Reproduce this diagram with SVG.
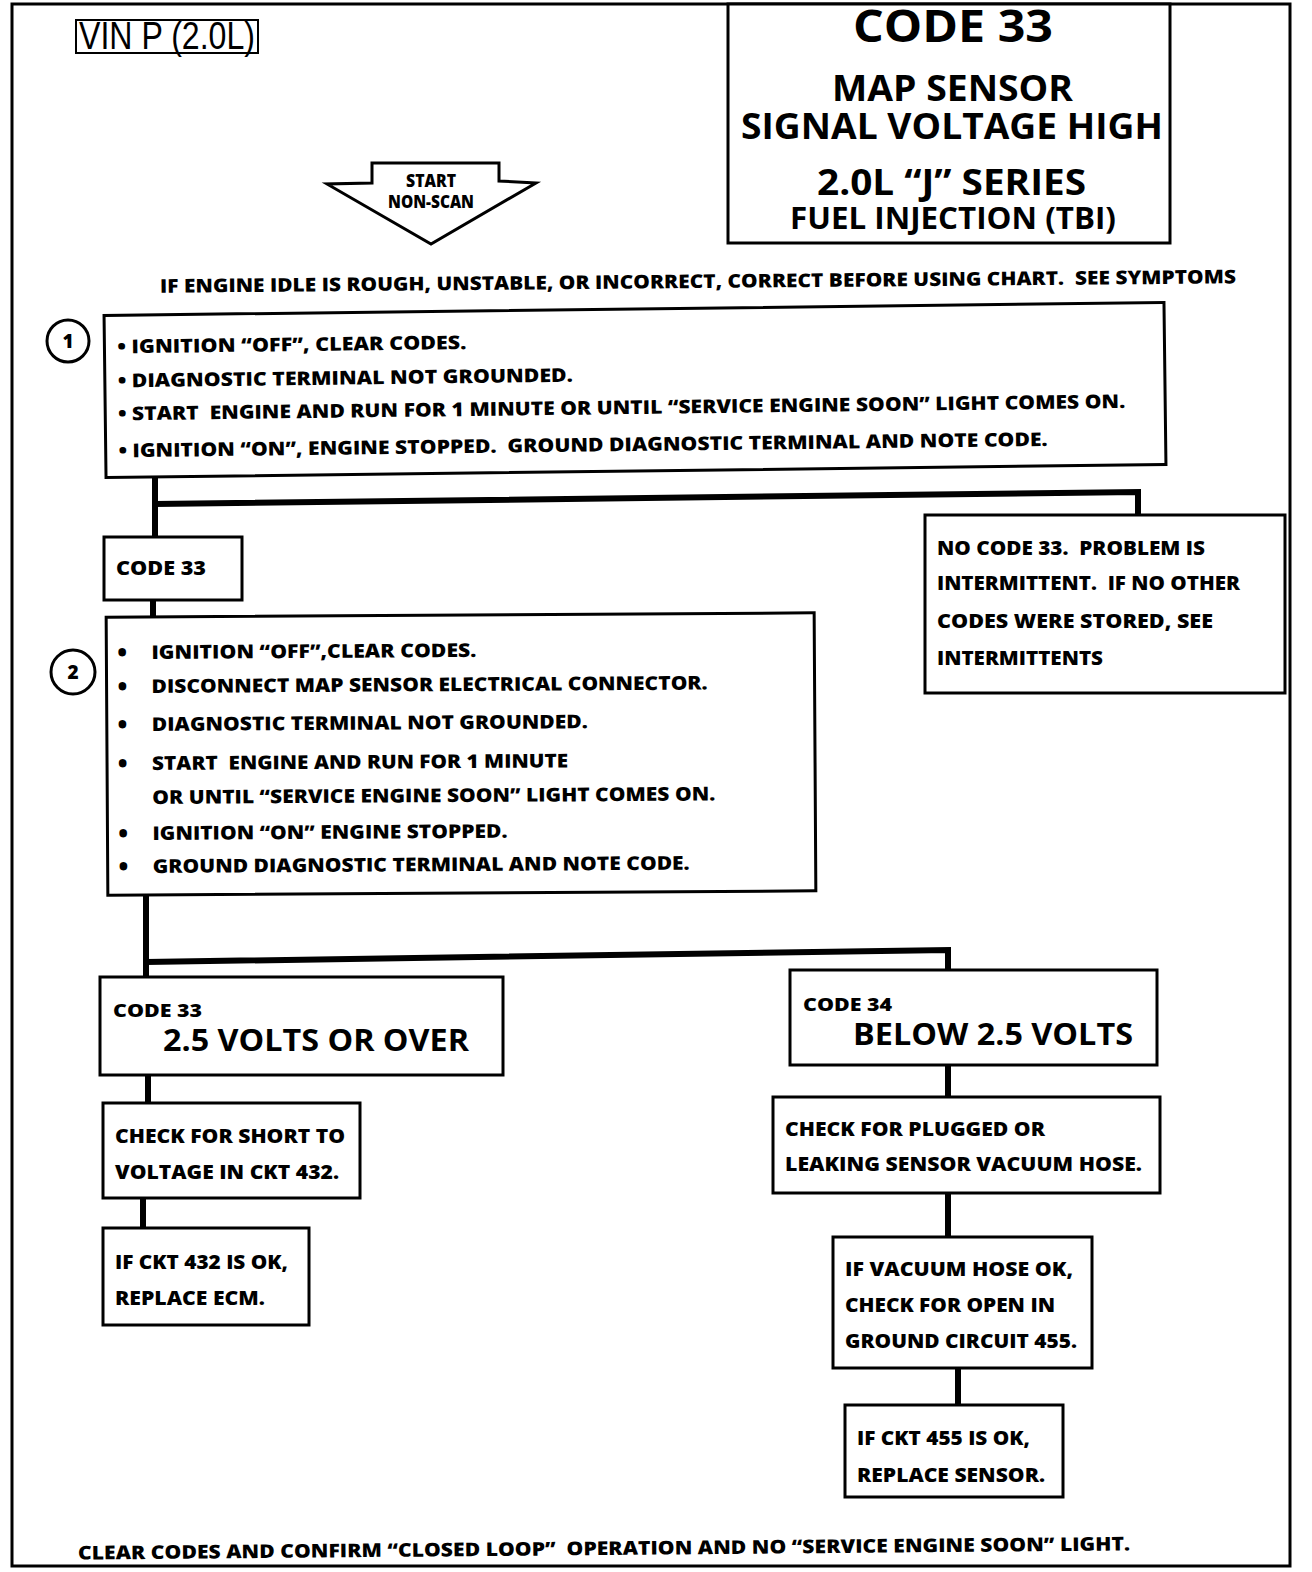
<svg xmlns="http://www.w3.org/2000/svg" width="1312" height="1572" viewBox="0 0 1312 1572">
<style>
.box{fill:#fff;stroke:#000;stroke-width:3}
.con{fill:none;stroke:#000;stroke-width:6;stroke-linejoin:miter}
.t{font-family:"Open Sans","Liberation Sans",sans-serif;font-weight:800;font-size:19px;fill:#000;white-space:pre}
.b{font-family:"Open Sans","Liberation Sans",sans-serif;font-weight:800;font-size:24px;fill:#000}
.ti{font-family:"Open Sans","Liberation Sans",sans-serif;font-weight:700;fill:#000}
.big{font-family:"Open Sans","Liberation Sans",sans-serif;font-weight:700;font-size:31px;fill:#000}
.sm{font-family:"Open Sans","Liberation Sans",sans-serif;font-weight:800;font-size:18px;fill:#000}
</style>
<rect x="0" y="0" width="1312" height="1572" fill="#fff"/>
<rect x="12" y="4" width="1278" height="1562" fill="none" stroke="#000" stroke-width="3"/>

<g id="vin">
<rect x="76" y="20" width="182" height="33" fill="none" stroke="#000" stroke-width="2"/>
<text x="79" y="49" font-family="Liberation Sans, Arial, sans-serif" font-size="38" textLength="176" lengthAdjust="spacingAndGlyphs">VIN P (2.0L)</text>
</g>

<g id="title">
<rect class="box" x="728" y="4" width="442" height="239"/>
<text class="ti" x="853" y="42" font-size="44" textLength="200" lengthAdjust="spacingAndGlyphs">CODE 33</text>
<text class="ti" x="832" y="101" font-size="35" textLength="241" lengthAdjust="spacingAndGlyphs">MAP SENSOR</text>
<text class="ti" x="741" y="139" font-size="35" textLength="422" lengthAdjust="spacingAndGlyphs">SIGNAL VOLTAGE HIGH</text>
<text class="ti" x="817" y="195" font-size="35" textLength="269" lengthAdjust="spacingAndGlyphs">2.0L “J” SERIES</text>
<text class="ti" x="790" y="229" font-size="31" textLength="326" lengthAdjust="spacingAndGlyphs">FUEL INJECTION (TBI)</text>
</g>

<g id="start">
<polygon class="box" points="372,163 499,163 499,181 536,183 431,244 327,184 372,183"/>
<text class="sm" x="431" y="187" font-size="14" text-anchor="middle" textLength="50" lengthAdjust="spacingAndGlyphs">START</text>
<text class="sm" x="431" y="208" font-size="14" text-anchor="middle" textLength="86" lengthAdjust="spacingAndGlyphs">NON-SCAN</text>
</g>

<text id="note" class="t" x="160" y="288" textLength="1076" lengthAdjust="spacingAndGlyphs" transform="rotate(-0.5 698 286)">IF ENGINE IDLE IS ROUGH, UNSTABLE, OR INCORRECT, CORRECT BEFORE USING CHART.  SEE SYMPTOMS</text>

<g id="connectors">
<path class="con" d="M155 477 V537"/>
<polyline class="con" points="155,504 1138,492 1138,515"/>
<path class="con" d="M153 600 V618"/>
<path class="con" d="M146 893 V977"/>
<polyline class="con" points="146,962 948,950 948,970"/>
<path class="con" d="M148 1075 V1103"/>
<path class="con" d="M143 1198 V1228"/>
<path class="con" d="M948 1065 V1097"/>
<path class="con" d="M948 1193 V1237"/>
<path class="con" d="M958 1368 V1405"/>
</g>

<g id="step1">
<circle cx="68" cy="341" r="21" fill="#fff" stroke="#000" stroke-width="3"/>
<text class="t" x="68" y="348" font-size="20" text-anchor="middle">1</text>
</g>

<g id="box1" transform="rotate(-0.7 635 390)">
<rect class="box" x="105" y="309" width="1060" height="162"/>
<text class="t" x="118" y="347" textLength="349" lengthAdjust="spacingAndGlyphs">• IGNITION “OFF”, CLEAR CODES.</text>
<text class="t" x="118" y="381" textLength="455" lengthAdjust="spacingAndGlyphs">• DIAGNOSTIC TERMINAL NOT GROUNDED.</text>
<text class="t" x="118" y="414" textLength="1007" lengthAdjust="spacingAndGlyphs">• START  ENGINE AND RUN FOR 1 MINUTE OR UNTIL “SERVICE ENGINE SOON” LIGHT COMES ON.</text>
<text class="t" x="118" y="451" textLength="929" lengthAdjust="spacingAndGlyphs">• IGNITION “ON”, ENGINE STOPPED.  GROUND DIAGNOSTIC TERMINAL AND NOTE CODE.</text>
</g>

<g id="code33a">
<rect class="box" x="104" y="537" width="138" height="63"/>
<text class="t" x="116" y="575" textLength="90" lengthAdjust="spacingAndGlyphs">CODE 33</text>
</g>

<g id="nocode">
<rect class="box" x="925" y="515" width="360" height="178"/>
<text class="t" x="937" y="555" textLength="268" lengthAdjust="spacingAndGlyphs">NO CODE 33.  PROBLEM IS</text>
<text class="t" x="937" y="590" textLength="303" lengthAdjust="spacingAndGlyphs">INTERMITTENT.  IF NO OTHER</text>
<text class="t" x="937" y="628" textLength="276" lengthAdjust="spacingAndGlyphs">CODES WERE STORED, SEE</text>
<text class="t" x="937" y="665" textLength="166" lengthAdjust="spacingAndGlyphs">INTERMITTENTS</text>
</g>

<g id="step2">
<circle cx="73" cy="672" r="22" fill="#fff" stroke="#000" stroke-width="3"/>
<text class="t" x="73" y="679" font-size="20" text-anchor="middle">2</text>
</g>

<g id="box2" transform="rotate(-0.35 461 754)">
<rect class="box" x="107" y="615" width="708" height="278"/>
<text class="b" x="118" y="659">•</text>
<text class="t" x="152" y="657" textLength="325" lengthAdjust="spacingAndGlyphs">IGNITION “OFF”,CLEAR CODES.</text>
<text class="b" x="118" y="693">•</text>
<text class="t" x="152" y="691" textLength="556" lengthAdjust="spacingAndGlyphs">DISCONNECT MAP SENSOR ELECTRICAL CONNECTOR.</text>
<text class="b" x="118" y="731">•</text>
<text class="t" x="152" y="729" textLength="436" lengthAdjust="spacingAndGlyphs">DIAGNOSTIC TERMINAL NOT GROUNDED.</text>
<text class="b" x="118" y="770">•</text>
<text class="t" x="152" y="768" textLength="416" lengthAdjust="spacingAndGlyphs">START  ENGINE AND RUN FOR 1 MINUTE</text>
<text class="t" x="152" y="802" textLength="563" lengthAdjust="spacingAndGlyphs">OR UNTIL “SERVICE ENGINE SOON” LIGHT COMES ON.</text>
<text class="b" x="118" y="840">•</text>
<text class="t" x="152" y="838" textLength="355" lengthAdjust="spacingAndGlyphs">IGNITION “ON” ENGINE STOPPED.</text>
<text class="b" x="118" y="873">•</text>
<text class="t" x="152" y="871" textLength="537" lengthAdjust="spacingAndGlyphs">GROUND DIAGNOSTIC TERMINAL AND NOTE CODE.</text>
</g>

<g id="code33b">
<rect class="box" x="100" y="977" width="403" height="98"/>
<text class="sm" x="113" y="1017" textLength="89" lengthAdjust="spacingAndGlyphs">CODE 33</text>
<text class="big" x="163" y="1051" textLength="306" lengthAdjust="spacingAndGlyphs">2.5 VOLTS OR OVER</text>
</g>

<g id="code34">
<rect class="box" x="790" y="970" width="367" height="95"/>
<text class="sm" x="803" y="1011" textLength="89" lengthAdjust="spacingAndGlyphs">CODE 34</text>
<text class="big" x="853" y="1045" textLength="280" lengthAdjust="spacingAndGlyphs">BELOW 2.5 VOLTS</text>
</g>

<g id="short">
<rect class="box" x="103" y="1103" width="257" height="95"/>
<text class="t" x="115" y="1143" textLength="230" lengthAdjust="spacingAndGlyphs">CHECK FOR SHORT TO</text>
<text class="t" x="115" y="1179" textLength="224" lengthAdjust="spacingAndGlyphs">VOLTAGE IN CKT 432.</text>
</g>

<g id="ecm">
<rect class="box" x="103" y="1228" width="206" height="97"/>
<text class="t" x="115" y="1269" textLength="173" lengthAdjust="spacingAndGlyphs">IF CKT 432 IS OK,</text>
<text class="t" x="115" y="1305" textLength="150" lengthAdjust="spacingAndGlyphs">REPLACE ECM.</text>
</g>

<g id="plugged">
<rect class="box" x="773" y="1097" width="387" height="96"/>
<text class="t" x="785" y="1136" textLength="260" lengthAdjust="spacingAndGlyphs">CHECK FOR PLUGGED OR</text>
<text class="t" x="785" y="1171" textLength="357" lengthAdjust="spacingAndGlyphs">LEAKING SENSOR VACUUM HOSE.</text>
</g>

<g id="vacuum">
<rect class="box" x="833" y="1237" width="259" height="131"/>
<text class="t" x="845" y="1276" textLength="228" lengthAdjust="spacingAndGlyphs">IF VACUUM HOSE OK,</text>
<text class="t" x="845" y="1312" textLength="210" lengthAdjust="spacingAndGlyphs">CHECK FOR OPEN IN</text>
<text class="t" x="845" y="1348" textLength="232" lengthAdjust="spacingAndGlyphs">GROUND CIRCUIT 455.</text>
</g>

<g id="sensor">
<rect class="box" x="845" y="1405" width="218" height="92"/>
<text class="t" x="857" y="1445" textLength="173" lengthAdjust="spacingAndGlyphs">IF CKT 455 IS OK,</text>
<text class="t" x="857" y="1482" textLength="188" lengthAdjust="spacingAndGlyphs">REPLACE SENSOR.</text>
</g>

<text id="footer" class="t" x="78" y="1555" textLength="1052" lengthAdjust="spacingAndGlyphs" transform="rotate(-0.5 604 1552)">CLEAR CODES AND CONFIRM “CLOSED LOOP”  OPERATION AND NO “SERVICE ENGINE SOON” LIGHT.</text>
</svg>
